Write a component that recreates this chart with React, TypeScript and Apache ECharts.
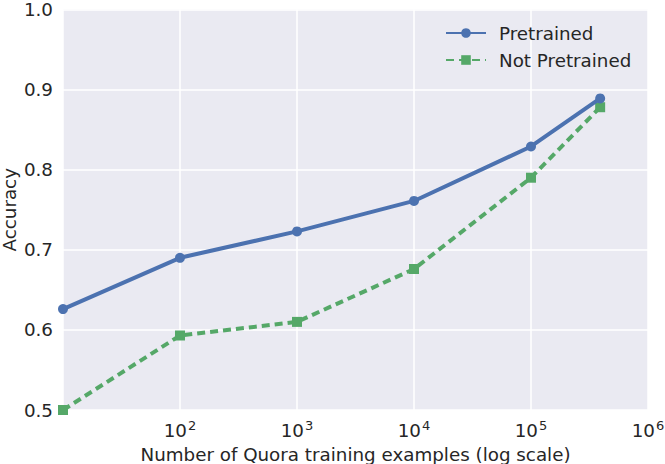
import React, { useEffect, useRef } from "react";
import * as echarts from "echarts";

const trainingExamples = [10, 100, 1000, 10000, 100000, 390000];
const pretrained = [0.626, 0.69, 0.723, 0.761, 0.829, 0.889];
const notPretrained = [0.5, 0.593, 0.61, 0.676, 0.79, 0.878];
const yTicks = [0.5, 0.6, 0.7, 0.8, 0.9, 1.0];

const FONT = "DejaVu Sans";
const TXT = "#262626";
const FS = 18.3;

export default function App() {
  const ref = useRef<HTMLDivElement>(null);
  useEffect(() => {
    if (!ref.current) return;
    const chart = echarts.init(ref.current, undefined, { renderer: "svg" });
    chart.setOption({
      animation: false,
      backgroundColor: "#ffffff",
      textStyle: { fontFamily: FONT, color: TXT },
      grid: {
        left: 63,
        right: 17,
        top: 9.5,
        bottom: 54,
        backgroundColor: "#EAEAF2",
        show: true,
        borderWidth: 0,
        containLabel: false,
        outerBoundsMode: "none",
      },
      legend: {
        orient: "vertical",
        left: 445,
        top: 24,
        padding: 0,
        itemWidth: 40,
        itemHeight: 12,
        itemGap: 9,
        textStyle: { fontFamily: FONT, fontSize: FS, color: TXT, padding: [0, 0, 0, 8] },
        data: ["Pretrained", "Not Pretrained"],
      },
      xAxis: {
        type: "log",
        logBase: 10,
        min: 10,
        max: 1000000,
        name: "Number of Quora training examples (log scale)",
        nameLocation: "middle",
        nameGap: 35,
        nameTextStyle: { fontFamily: FONT, fontSize: FS, color: TXT },
        axisLine: { show: false },
        axisTick: { show: false },
        splitLine: { show: true, lineStyle: { color: "#ffffff", width: 1.5 } },
        axisLabel: {
          showMinLabel: false,
          margin: 9,
          formatter: (v: number) => {
            const e = Math.round(Math.log10(v));
            return "{b|10}{s|" + e + "}";
          },
          rich: {
            b: { fontFamily: FONT, fontSize: FS, color: TXT },
            s: { fontFamily: FONT, fontSize: 13, color: TXT, padding: [0, 0, 10, 1] },
          },
        },
      },
      yAxis: {
        type: "value",
        min: 0.5,
        max: 1.0,
        interval: 0.1,
        name: "Accuracy",
        nameLocation: "middle",
        nameGap: 45,
        nameMoveOverlap: false,
        nameTextStyle: { fontFamily: FONT, fontSize: FS, color: TXT },
        axisLine: { show: false },
        axisTick: { show: false },
        splitLine: { show: true, lineStyle: { color: "#ffffff", width: 1.5 } },
        axisLabel: {
          fontFamily: FONT,
          fontSize: FS,
          color: TXT,
          margin: 10,
          formatter: (v: number) => {
            const t = yTicks.find((k) => Math.abs(k - v) < 1e-6);
            return (t ?? v).toFixed(1);
          },
        },
      },
      series: [
        {
          name: "Pretrained",
          type: "line",
          data: trainingExamples.map((x, i) => [x, pretrained[i]]),
          symbol: "circle",
          symbolSize: 10,
          lineStyle: { color: "#4C72B0", width: 4 },
          itemStyle: { color: "#4C72B0" },
          z: 3,
        },
        {
          name: "Not Pretrained",
          type: "line",
          data: trainingExamples.map((x, i) => [x, notPretrained[i]]),
          symbol: "rect",
          symbolSize: 10,
          lineStyle: { color: "#55A868", width: 4, type: [8, 5] },
          itemStyle: { color: "#55A868" },
          z: 2,
        },
      ],
    });
    return () => chart.dispose();
  }, []);
  return <div ref={ref} style={{ width: 665, height: 464, position: "absolute", left: 0, top: 0 }} />;
}
